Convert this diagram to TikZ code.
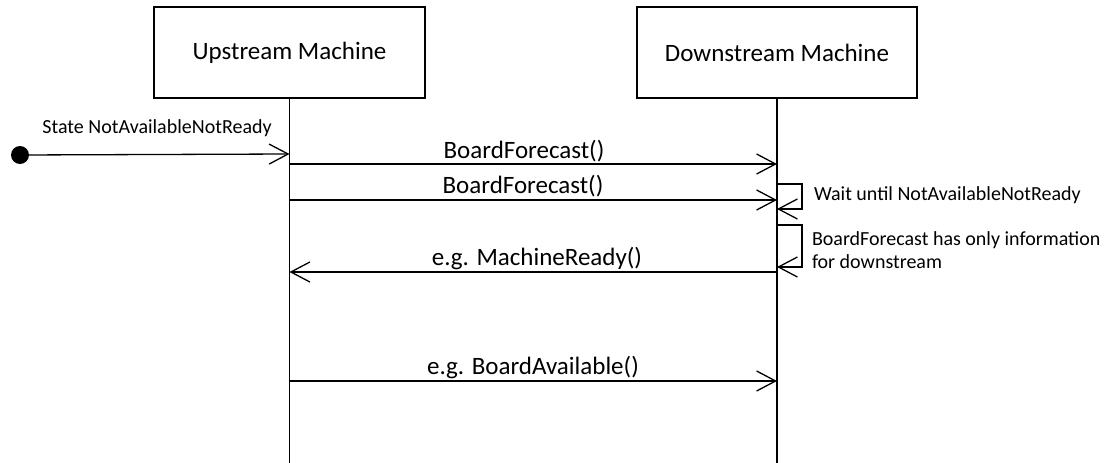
\documentclass[tikz,border=0pt]{standalone}
\usepackage{fontspec}
\setmainfont{Carlito}
\usetikzlibrary{arrows.meta}
\begin{document}
\begin{tikzpicture}[x=1pt,y=-1pt,
  every node/.style={inner sep=0pt,outer sep=0pt},
  lane/.style={draw=black,line width=1.3pt,minimum height=91pt,font=\fontsize{25}{30}\selectfont},
  life/.style={draw=black,line width=1.2pt},
  msg/.style={draw=black,line width=1.3pt,-{Straight Barb[length=19pt,width=20pt,line width=1.3pt]}},
  lbl/.style={font=\fontsize{25}{30}\selectfont},
  note/.style={font=\fontsize{20}{25}\selectfont,align=left,anchor=west}]
\useasboundingbox (0,0) rectangle (1112,463);
\node[lane,minimum width=271pt] (up) at (289.5,52.5) {Upstream Machine};
\node[lane,minimum width=280pt] (down) at (777,52.5) {Downstream Machine};
\coordinate (upend) at (289.5,463);
\coordinate (downend) at (777,463);
\draw[life] (up.south) -- (upend);
\draw[life] (down.south) -- (downend);
% initial state
\node[circle,fill=black,minimum size=18pt] (start) at (20,155) {};
\coordinate (i1) at (289.5,154);
\draw[msg] (start) -- (i1);
\node[note,anchor=center] (slbl) at (157,128) {State NotAvailableNotReady};
% messages
\coordinate (a1) at (289.5,164); \coordinate (b1) at (777,164);
\draw[msg] (a1) -- (b1);
\node[lbl] (l1) at (524,151) {BoardForecast()};
\coordinate (a2) at (289.5,200); \coordinate (b2) at (777,200);
\draw[msg] (a2) -- (b2);
\node[lbl] (l2) at (523,186) {BoardForecast()};
\coordinate (a3) at (289.5,272); \coordinate (b3) at (777,272);
\draw[msg] (b3) -- (a3);
\node[lbl] (l3) at (537,259) {e.g. MachineReady()};
\coordinate (a4) at (289.5,381); \coordinate (b4) at (777,381);
\draw[msg] (a4) -- (b4);
\node[lbl] (l4) at (533,368) {e.g. BoardAvailable()};
% self loops
\coordinate (s1) at (777,184); \coordinate (s1b) at (777,209);
\draw[msg] (s1) -- (802,184) -- (802,209) -- (s1b);
\node[note] (n1) at (814,195) {Wait until NotAvailableNotReady};
\coordinate (s2) at (777,225); \coordinate (s2b) at (777,267);
\draw[msg] (s2) -- (802,225) -- (802,267) -- (s2b);
\node[note] (n2) at (812,250) {BoardForecast has only information\\[-2pt]for downstream};
\end{tikzpicture}
\end{document}
